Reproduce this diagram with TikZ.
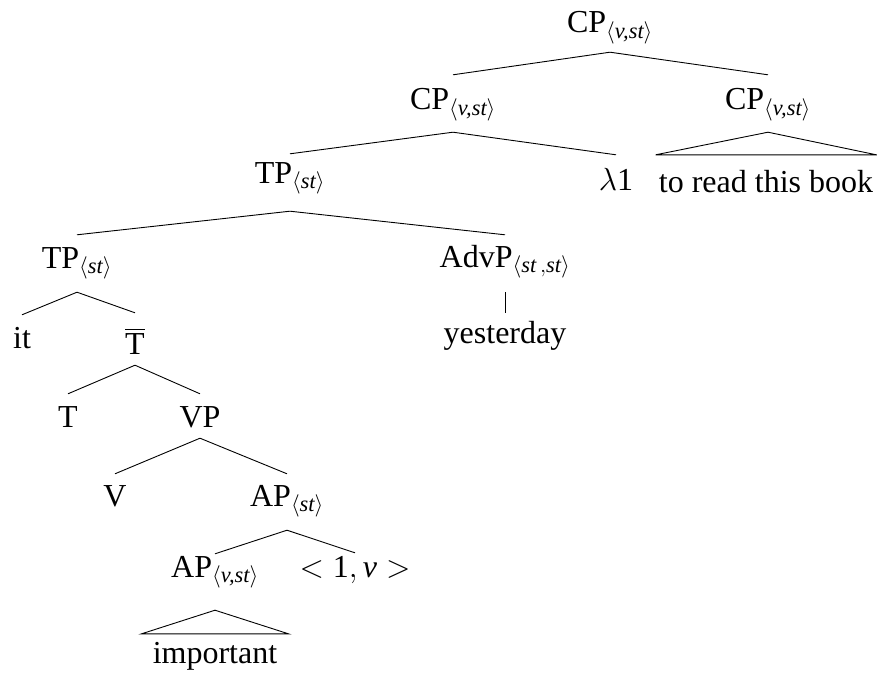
\RequirePackage{fix-cm}
\documentclass[tikz,border=0pt]{standalone}
\usepackage{amsmath}
\usepackage{fontspec}
\setmainfont{Liberation Serif}

% type subscripts
\newcommand\tyvst{$_{\langle\textit{v,st}\rangle}$}
\newcommand\tyst{$_{\langle\textit{st}\rangle}$}
\newcommand\tystst{$_{\langle\textit{st}\,,\textit{st}\rangle}$}

\begin{document}
\begin{tikzpicture}[x=1pt,y=-1pt,
  lbl/.style={anchor=base, inner sep=0pt, font=\fontsize{32}{38}\selectfont},
  hd/.style 2 args={text height=#1pt, text depth=#2pt},
  edge/.style={line width=0.9pt}]
\useasboundingbox (0,0) rectangle (877,674);

% labels
\node[lbl, hd={35}{19}] (root) at (610,33) {CP\tyvst};
\node[lbl, hd={35}{22}] (cpL) at (453,110) {CP\tyvst};
\node[lbl, hd={35}{22}] (cpR) at (768,110) {CP\tyvst};
\node[lbl, hd={29}{28}] (tp3) at (290,183) {TP\tyst};
\node[lbl, hd={35}{0}] (lam) at (616,190) {$\lambda$1};
\node[lbl, hd={37}{0}, inner xsep=3pt] (book) at (766,192) {to read this book};
\node[lbl, hd={33}{24}] (tp4) at (77,268) {TP\tyst};
\node[lbl, hd={32}{25}] (advp) at (505,267) {AdvP\tystst};
\node[lbl, hd={33}{0}] (it) at (22,348) {it};
\node[lbl, hd={41}{11}] (tbar) at (135,354) {$\overline{\text{T}}$};
\node[lbl, hd={30}{0}] (yest) at (505,343) {yesterday};
\node[lbl, hd={33}{0}] (t) at (68,427) {T};
\node[lbl, hd={33}{11}] (vp) at (200,427) {VP};
\node[lbl, hd={32}{0}] (v) at (115,506) {V};
\node[lbl, hd={32}{24}] (ap1) at (287,506) {AP\tyst};
\node[lbl, hd={23}{33}] (ap2) at (215,577) {AP\tyvst};
\node[lbl, hd={24}{0}] (arg) at (355,577) {$<\text{1},\textit{v}>$};
\node[lbl, hd={29}{0}, inner xsep=11pt] (imp) at (215,663) {important};

% branches
\draw[edge] (root.south) -- (cpL.north);
\draw[edge] (root.south) -- (cpR.north);
\draw[edge] (cpL.south) -- (tp3.north);
\draw[edge] (cpL.south) -- (lam.north);
\draw[edge] (cpR.south) -- (book.north west) -- (book.north east) -- cycle;
\draw[edge] (tp3.south) -- (tp4.north);
\draw[edge] (tp3.south) -- (advp.north);
\draw[edge] (tp4.south) -- (it.north);
\draw[edge] (tp4.south) -- (tbar.north);
\draw[edge] (advp.south) -- (yest.north);
\draw[edge] (tbar.south) -- (t.north);
\draw[edge] (tbar.south) -- (vp.north);
\draw[edge] (vp.south) -- (v.north);
\draw[edge] (vp.south) -- (ap1.north);
\draw[edge] (ap1.south) -- (ap2.north);
\draw[edge] (ap1.south) -- (arg.north);
\draw[edge] (ap2.south) -- (imp.north west) -- (imp.north east) -- cycle;
\end{tikzpicture}
\end{document}
